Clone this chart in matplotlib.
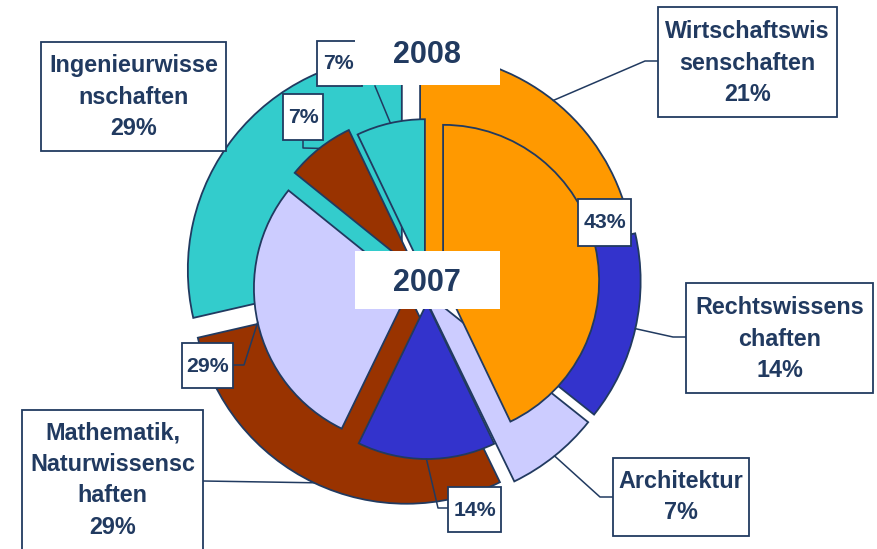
import matplotlib
matplotlib.use("Agg")
import numpy as np
import matplotlib.pyplot as plt
from matplotlib.patches import Rectangle

W, H = 877, 549
NAVY = "#213A60"
FONT = ["Liberation Sans", "DejaVu Sans"]

#%% data (shares in percent, outer ring = 2008, inner pie = 2007)
categories = ["Wirtschaftswissenschaften", "Rechtswissenschaften", "Architektur",
              "Mathematik, Naturwissenschaften", "Ingenieurwissenschaften"]
# names broken the same way as in the original label boxes
label_names = ["Wirtschaftswis\nsenschaften", "Rechtswissens\nchaften", "Architektur",
               "Mathematik,\nNaturwissensc\nhaften", "Ingenieurwisse\nnschaften"]
share_2008 = [21.4, 14.3, 7.1, 28.6, 28.6]
share_2007 = [42.9, 14.3, 28.6, 7.1, 7.1]
colors = ["#FF9900", "#3333CC", "#CCCCFF", "#993300", "#33CCCC"]

#%% layout (pixel coordinates, y from the top)
OUTER_CENTER, OUTER_R = (412, 278), 214
OUTER_EXPLODE = [13, 15, 14, 13, 13]
INNER_CENTER, INNER_R = (427, 284.5), 156
INNER_EXPLODE = [16.5, 18.5, 17.5, 17.5, 9.5]

box_2008 = [(658, 7, 837, 117), (686, 283, 873, 393), (613, 458, 749, 536),
            (22, 410, 203, 600), (41, 42, 226, 151)]
text_2008 = [(747.5, 63), (779.5, 339), (681, 497), (112.5, 480), (133.5, 97)]
elbow_2008 = [[(645, 61), (658, 61)], [(673, 337), (686, 337)], [(600, 497), (613, 497)],
              [(203, 481)], None]

box_2007 = [(578, 199, 631, 246), (448, 487, 501, 532), (182, 343, 233, 388),
            (283, 94, 323, 140), (317, 41, 362, 86)]
text_2007 = [(604.5, 223), (474.5, 510), (207.5, 366), (303, 117.5), (338.5, 63.5)]
elbow_2007 = [None, [(438, 508), (448, 508)], [(244, 365), (233, 365)],
              [(303, 148), (303, 140)], [(375, 86)]]


def px(x, y):
    return x, H - y


def arc_mid(w):
    t = np.deg2rad((w.theta1 + w.theta2) / 2)
    return w.center[0] + w.r * np.cos(t), w.center[1] + w.r * np.sin(t)


def draw_box(ax, box, fc="white", ec=NAVY, z=4):
    x0, y0, x1, y1 = box
    ax.add_patch(Rectangle((x0, H - y1), x1 - x0, y1 - y0, facecolor=fc,
                           edgecolor=ec, linewidth=1.3, zorder=z))


def draw_leader(ax, wedge, elbow):
    if elbow is None:
        return
    pts = [arc_mid(wedge)] + [px(*p) for p in elbow]
    xs, ys = zip(*pts)
    ax.plot(xs, ys, color=NAVY, linewidth=1.1, zorder=3)


fig = plt.figure(figsize=(W / 100, H / 100), dpi=100)
ax = fig.add_axes([0, 0, 1, 1])

wedge_style = dict(edgecolor=NAVY, linewidth=1.3)
wedges_out, _ = ax.pie(share_2008, colors=colors, radius=OUTER_R, center=px(*OUTER_CENTER),
                       startangle=90, counterclock=False, explode=OUTER_EXPLODE,
                       wedgeprops=wedge_style)
wedges_in, _ = ax.pie(share_2007, colors=colors, radius=INNER_R, center=px(*INNER_CENTER),
                      startangle=90, counterclock=False, explode=INNER_EXPLODE,
                      wedgeprops=wedge_style)

for w, name, val, box, tpos, elbow in zip(wedges_out, label_names, share_2008,
                                          box_2008, text_2008, elbow_2008):
    draw_leader(ax, w, elbow)
    draw_box(ax, box)
    ax.text(*px(*tpos), f"{name}\n{round(val)}%", ha="center", va="center",
            fontsize=16.8, fontweight="bold", color=NAVY, family=FONT,
            linespacing=1.47, zorder=5)

for w, val, box, tpos, elbow in zip(wedges_in, share_2007, box_2007, text_2007, elbow_2007):
    draw_leader(ax, w, elbow)
    draw_box(ax, box)
    ax.text(*px(*tpos), f"{round(val)}%", ha="center", va="center",
            fontsize=15.3, fontweight="bold", color=NAVY, family=FONT, zorder=5)

# year captions on plain white boxes
for year, box, tpos in [("2008", (355, 25, 500, 85), (427, 55)),
                        ("2007", (355, 251, 500, 309), (427, 283))]:
    draw_box(ax, box, ec="none", z=6)
    ax.text(*px(*tpos), year, ha="center", va="center", fontsize=22,
            fontweight="bold", color=NAVY, family=FONT, zorder=7)

ax.set_xlim(0, W)
ax.set_ylim(0, H)
ax.set_aspect("auto")
ax.axis("off")

fig.savefig("out.png", dpi=100)
